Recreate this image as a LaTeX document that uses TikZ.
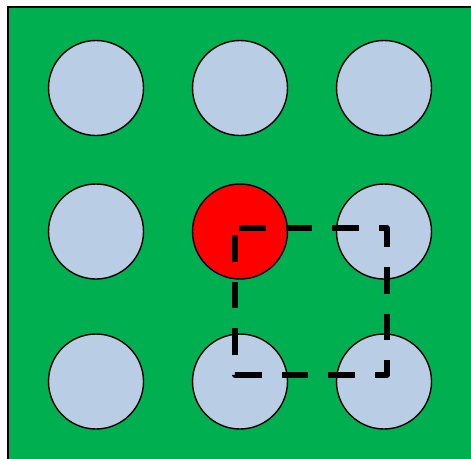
\documentclass[tikz,border=0pt]{standalone}
\definecolor{bggreen}{HTML}{00B050}
\definecolor{cblue}{HTML}{B9CDE5}
\definecolor{cred}{HTML}{FF0000}
\begin{document}
\begin{tikzpicture}[x=1pt,y=-1pt,
  disc/.style={circle,draw=black,line width=1.4pt,fill=cblue,minimum size=95pt,inner sep=0pt},
  hotdisc/.style={disc,fill=cred},
  window/.style={draw=black,line width=5.6pt,dash pattern=on 26.7pt off 20pt,line join=round}]
\useasboundingbox (0,0) rectangle (471,458);
\begin{scope}
\clip (0,0) rectangle (471,458);
\draw[fill=bggreen,draw=black,line width=1.4pt] (8,7) rectangle (476,462);
\end{scope}
\node[disc] (c11) at (96,88) {};
\node[disc] (c12) at (240,88) {};
\node[disc] (c13) at (384,88) {};
\node[disc] (c21) at (96,231.5) {};
\node[hotdisc] (c22) at (240,231.5) {};
\node[disc] (c23) at (384,231.5) {};
\node[disc] (c31) at (96,381.5) {};
\node[disc] (c32) at (240,381.5) {};
\node[disc] (c33) at (384,381.5) {};
\coordinate (w0) at (239,228);
\coordinate (w1) at (387,228);
\coordinate (w2) at (387,375);
\coordinate (w3) at (235,375);
\coordinate (w4) at (235,228);
\draw[window] (w0) -- (w1) -- (w2) -- (w3) -- (w4) -- (w0);
\end{tikzpicture}
\end{document}
